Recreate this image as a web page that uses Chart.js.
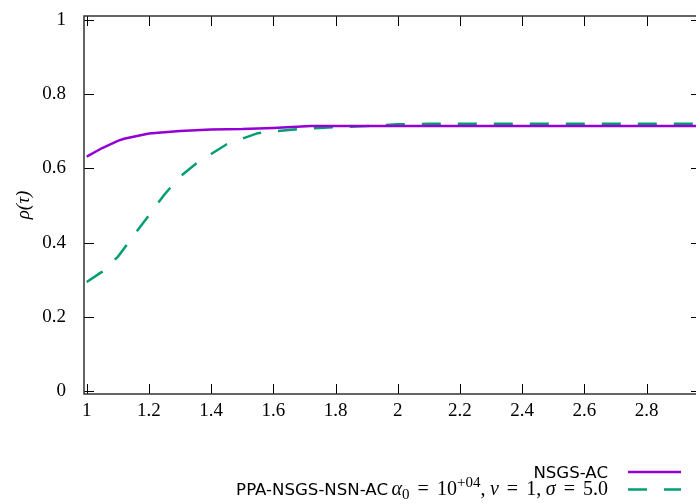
<!DOCTYPE html>
<html>
<head>
<meta charset="utf-8">
<script src="https://cdn.jsdelivr.net/npm/chart.js@4.4.0/dist/chart.umd.min.js"></script>
<style>
  html, body { margin: 0; padding: 0; background: #fff; overflow: hidden; }
  #wrap { width: 696px; height: 504px; overflow: hidden; }
</style>
</head>
<body>
<div id="wrap"><canvas id="perf_profile" width="702" height="504"></canvas></div>
<script>
// performance profile values
const tauNsgs = [1, 1.05, 1.1, 1.12, 1.2, 1.3, 1.4, 1.5, 1.6, 1.72, 1.8, 2, 2.5, 3];
const rhoNsgs = [0.632, 0.655, 0.674, 0.68, 0.694, 0.701, 0.705, 0.706, 0.709, 0.714, 0.714, 0.714, 0.714, 0.714];

const tauPpa = [1, 1.05, 1.1, 1.15, 1.2, 1.25, 1.3, 1.35, 1.4, 1.45, 1.5, 1.55, 1.6, 1.7, 1.8, 1.9, 2, 2.1, 2.5, 3];
const rhoPpa = [0.294, 0.322, 0.362, 0.418, 0.474, 0.53, 0.578, 0.612, 0.639, 0.665, 0.68, 0.695, 0.7, 0.707, 0.711, 0.714, 0.719, 0.72, 0.72, 0.72];

const xTickValues = [1, 1.2, 1.4, 1.6, 1.8, 2, 2.2, 2.4, 2.6, 2.8];
const yTickValues = [0, 0.2, 0.4, 0.6, 0.8, 1];

const NSGS_COLOR = "#9400d3";
const PPA_COLOR = "#009e73";

const toPoints = (xs, ys) => xs.map((v, i) => ({ x: v, y: ys[i] }));
const fmt = (v) => String(Number(v.toFixed(1)));

// gnuplot style frame with inward ticks on all four sides
const frameTicks = {
  id: "frameTicks",
  afterDatasetsDraw(chart) {
    const { ctx, chartArea: a, scales } = chart;
    const x = scales.x, y = scales.y;
    ctx.save();
    ctx.strokeStyle = "#000";
    ctx.lineWidth = 1;
    ctx.beginPath();
    xTickValues.forEach((v) => {
      const px = Math.round(x.getPixelForValue(v)) + 0.5;
      ctx.moveTo(px, a.bottom); ctx.lineTo(px, a.bottom - 10);
      ctx.moveTo(px, a.top); ctx.lineTo(px, a.top + 10);
    });
    yTickValues.forEach((v) => {
      const py = Math.round(y.getPixelForValue(v)) + 0.5;
      ctx.moveTo(a.left, py); ctx.lineTo(a.left + 10, py);
      ctx.moveTo(a.right, py); ctx.lineTo(a.right - 10, py);
    });
    ctx.stroke();
    ctx.strokeStyle = "#333";
    ctx.lineWidth = 1.5;
    ctx.strokeRect(a.left, a.top, a.right - a.left, a.bottom - a.top);
    ctx.restore();
  },
};

// axis title + legend (text right aligned, sample line after it)
const annotations = {
  id: "annotations",
  afterDraw(chart) {
    const ctx = chart.ctx;
    ctx.save();
    ctx.fillStyle = "#000";

    ctx.translate(24, 205);
    ctx.rotate(-Math.PI / 2);
    ctx.textAlign = "center";
    ctx.textBaseline = "middle";
    ctx.font = 'italic 19px "Liberation Serif"';
    ctx.fillText("\u03c1(\u03c4)", 0, 0);
    ctx.setTransform(1, 0, 0, 1, 0, 0);

    ctx.textBaseline = "alphabetic";
    ctx.textAlign = "right";
    ctx.font = '16.6px "DejaVu Sans"';
    ctx.fillText("NSGS-AC", 608, 478);
    ctx.fillText("PPA-NSGS-NSN-AC", 388, 495);

    // math part of the second label, TeX-like spacing fitted between 391.5 and 608
    ctx.textAlign = "left";
    const up = '20px "Liberation Serif"';
    const it = 'italic 20px "Liberation Serif"';
    const sm = '15px "Liberation Serif"';
    // gap: 0 none, 1 thin space, 2 thick space
    const pieces = [
      { t: "\u03b1", f: it, gap: 0, dy: 0 },
      { t: "0", f: sm, gap: 0, dy: 4 },
      { t: "=", f: up, gap: 2, dy: 0 },
      { t: "10", f: up, gap: 2, dy: 0 },
      { t: "+04", f: sm, gap: 0, dy: -8 },
      { t: ",", f: up, gap: 0, dy: 0 },
      { t: "\u03bd", f: it, gap: 1, dy: 0 },
      { t: "=", f: up, gap: 2, dy: 0 },
      { t: "1", f: up, gap: 2, dy: 0 },
      { t: ",", f: up, gap: 0, dy: 0 },
      { t: "\u03c3", f: it, gap: 1, dy: 0 },
      { t: "=", f: up, gap: 2, dy: 0 },
      { t: "5.0", f: up, gap: 2, dy: 0 },
    ];
    let sumW = 0, thick = 0, thin = 0;
    pieces.forEach((p) => {
      ctx.font = p.f;
      p.w = ctx.measureText(p.t).width;
      sumW += p.w;
      if (p.gap === 2) thick++;
      if (p.gap === 1) thin++;
    });
    const g = (608 - 391.5 - sumW) / (thick + 0.55 * thin);
    let cx = 391.5;
    pieces.forEach((p) => {
      cx += p.gap === 2 ? g : p.gap === 1 ? 0.55 * g : 0;
      ctx.font = p.f;
      ctx.fillText(p.t, cx, 495 + p.dy);
      cx += p.w;
    });

    ctx.lineWidth = 2.5;
    ctx.strokeStyle = NSGS_COLOR;
    ctx.beginPath(); ctx.moveTo(628, 472); ctx.lineTo(681, 472); ctx.stroke();
    ctx.strokeStyle = PPA_COLOR;
    ctx.setLineDash([19, 17]);
    ctx.beginPath(); ctx.moveTo(628, 489.5); ctx.lineTo(681, 489.5); ctx.stroke();
    ctx.restore();
  },
};

const tickFont = { family: '"Liberation Serif"', size: 19 };

new Chart("perf_profile", {
  type: "line",
  data: {
    datasets: [
      {
        label: "NSGS-AC",
        data: toPoints(tauNsgs, rhoNsgs),
        borderColor: NSGS_COLOR,
        borderWidth: 2.5,
        pointRadius: 0,
        tension: 0,
      },
      {
        label: "PPA-NSGS-NSN-AC",
        data: toPoints(tauPpa, rhoPpa),
        borderColor: PPA_COLOR,
        borderWidth: 2.5,
        borderDash: [19, 17],
        pointRadius: 0,
        tension: 0,
      },
    ],
  },
  options: {
    responsive: false,
    animation: false,
    layout: { padding: { left: 0, right: 1, top: 16, bottom: 0 } },
    plugins: { legend: { display: false }, tooltip: { enabled: false } },
    scales: {
      x: {
        type: "linear",
        min: 0.9913,
        max: 2.975,
        grid: { display: false, drawTicks: false },
        border: { display: false },
        afterBuildTicks: (scale) => { scale.ticks = xTickValues.map((v) => ({ value: v })); },
        afterFit: (scale) => {
          scale.height = 110;
          scale.paddingLeft = 0;
          scale.paddingRight = 0;
        },
        ticks: {
          autoSkip: false,
          maxRotation: 0,
          padding: 6,
          color: "#000",
          font: tickFont,
          callback: (v) => fmt(v),
        },
      },
      y: {
        min: -0.0075,
        max: 1.0105,
        grid: { display: false, drawTicks: false },
        border: { display: false },
        afterBuildTicks: (scale) => { scale.ticks = yTickValues.map((v) => ({ value: v })); },
        afterFit: (scale) => {
          scale.width = 84;
          scale.paddingTop = 0;
          scale.paddingBottom = 0;
        },
        ticks: {
          padding: 18,
          color: "#000",
          font: tickFont,
          callback: (v) => fmt(v),
        },
      },
    },
  },
  plugins: [frameTicks, annotations],
});
</script>
</body>
</html>
